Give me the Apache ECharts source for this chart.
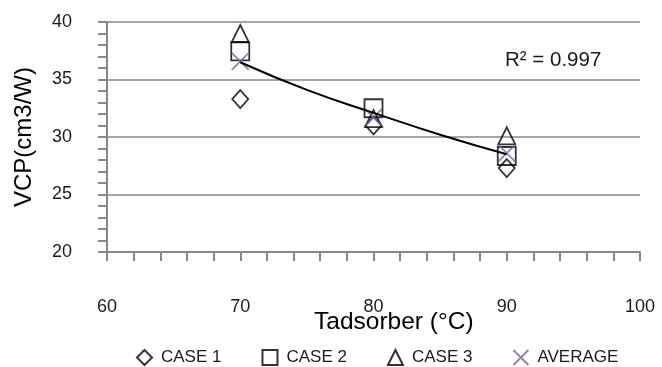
<!DOCTYPE html>
<html>
<head>
<meta charset="utf-8">
<script src="https://cdn.jsdelivr.net/npm/echarts@6/dist/echarts.min.js"></script>
<style>
  html, body { margin: 0; padding: 0; background: #fff; }
  #chart { width: 662px; height: 367px; }
</style>
</head>
<body>
<div id="chart"></div>
<script>
// data
const temps = [70, 80, 90];
const case1 = [33.3, 31.0, 27.3];
const case2 = [37.45, 32.5, 28.35];
const case3 = [39.0, 31.6, 30.1];
const average = [36.57, 31.7, 28.6];
const trendTemps = [70, 75, 80, 85, 90];
const trendValues = [36.5, 34.1, 32.1, 30.2, 28.5];
const xTicks = [60, 70, 80, 90, 100];
const yTicks = [20, 25, 30, 35, 40];
const legendNames = ['CASE 1', 'CASE 2', 'CASE 3', 'AVERAGE'];
const r2Text = 'R² = 0.997';

const FONT = '"Liberation Sans", Arial, sans-serif';
const GRAY = '#878787';
const PURPLE = '#7f62a8';
const CROSS = 'path://M0,0L10,10M10,0L0,10';

const pairs = (xs, ys) => xs.map((x, i) => [x, ys[i]]);

const hollow = (name, symbol, size, values, color) => ({
    name: name,
    type: 'scatter',
    symbol: symbol,
    symbolSize: size,
    data: pairs(temps, values),
    itemStyle: { color: 'transparent', borderColor: color, borderWidth: 1.8 },
    emphasis: { disabled: true },
    z: 3
});

const chart = echarts.init(document.getElementById('chart'));
chart.setOption({
    animation: false,
    textStyle: { fontFamily: FONT },
    grid: { left: 107, right: 22, top: 22, bottom: 115 },
    xAxis: {
        type: 'value',
        min: xTicks[0],
        max: xTicks[xTicks.length - 1],
        interval: 10,
        axisLine: { lineStyle: { color: GRAY, width: 2 } },
        axisTick: { show: true, length: 9, lineStyle: { color: GRAY, width: 2 } },
        minorTick: { show: true, splitNumber: 5, length: 9, lineStyle: { color: GRAY, width: 2 } },
        splitLine: { show: false },
        axisLabel: { margin: 46, fontSize: 18, color: '#1a1a1a', fontFamily: FONT }
    },
    yAxis: {
        type: 'value',
        min: yTicks[0],
        max: yTicks[yTicks.length - 1],
        interval: 5,
        axisLine: { show: true, lineStyle: { color: GRAY, width: 2 } },
        axisTick: { show: true, length: 9, lineStyle: { color: GRAY, width: 2 } },
        minorTick: { show: true, splitNumber: 5, length: 9, lineStyle: { color: GRAY, width: 2 } },
        splitLine: { show: true, lineStyle: { color: GRAY, width: 1.5 } },
        axisLabel: { margin: 35, fontSize: 18, color: '#1a1a1a', fontFamily: FONT }
    },
    legend: {
        data: legendNames,
        left: 131,
        top: 344,
        itemWidth: 15,
        itemHeight: 15,
        itemGap: 40,
        textStyle: { fontSize: 17, color: '#1a1a1a', fontFamily: FONT, padding: [0, 0, 0, 4] }
    },
    graphic: [
        {
            type: 'text',
            left: 314,
            top: 310,
            style: { text: 'Tadsorber (°C)', font: '24.5px ' + FONT, fill: '#000' }
        },
        {
            type: 'text',
            x: 24,
            y: 137,
            rotation: Math.PI / 2,
            style: { text: 'VCP(cm3/W)', font: '24px ' + FONT, fill: '#000', align: 'center', verticalAlign: 'middle' }
        },
        {
            type: 'text',
            left: 505,
            top: 50,
            style: { text: r2Text, font: '20.5px ' + FONT, fill: '#1a1a1a' }
        }
    ],
    series: [
        hollow('CASE 1', 'diamond', [16, 18], case1, '#000'),
        hollow('CASE 2', 'rect', 18, case2, '#000'),
        hollow('CASE 3', 'triangle', [17, 17], case3, '#000'),
        hollow('AVERAGE', CROSS, 17, average, PURPLE),
        {
            name: 'trend',
            type: 'line',
            smooth: true,
            symbol: 'none',
            data: pairs(trendTemps, trendValues),
            lineStyle: { color: '#000', width: 2 },
            emphasis: { disabled: true },
            z: 4
        }
    ]
});
</script>
</body>
</html>
